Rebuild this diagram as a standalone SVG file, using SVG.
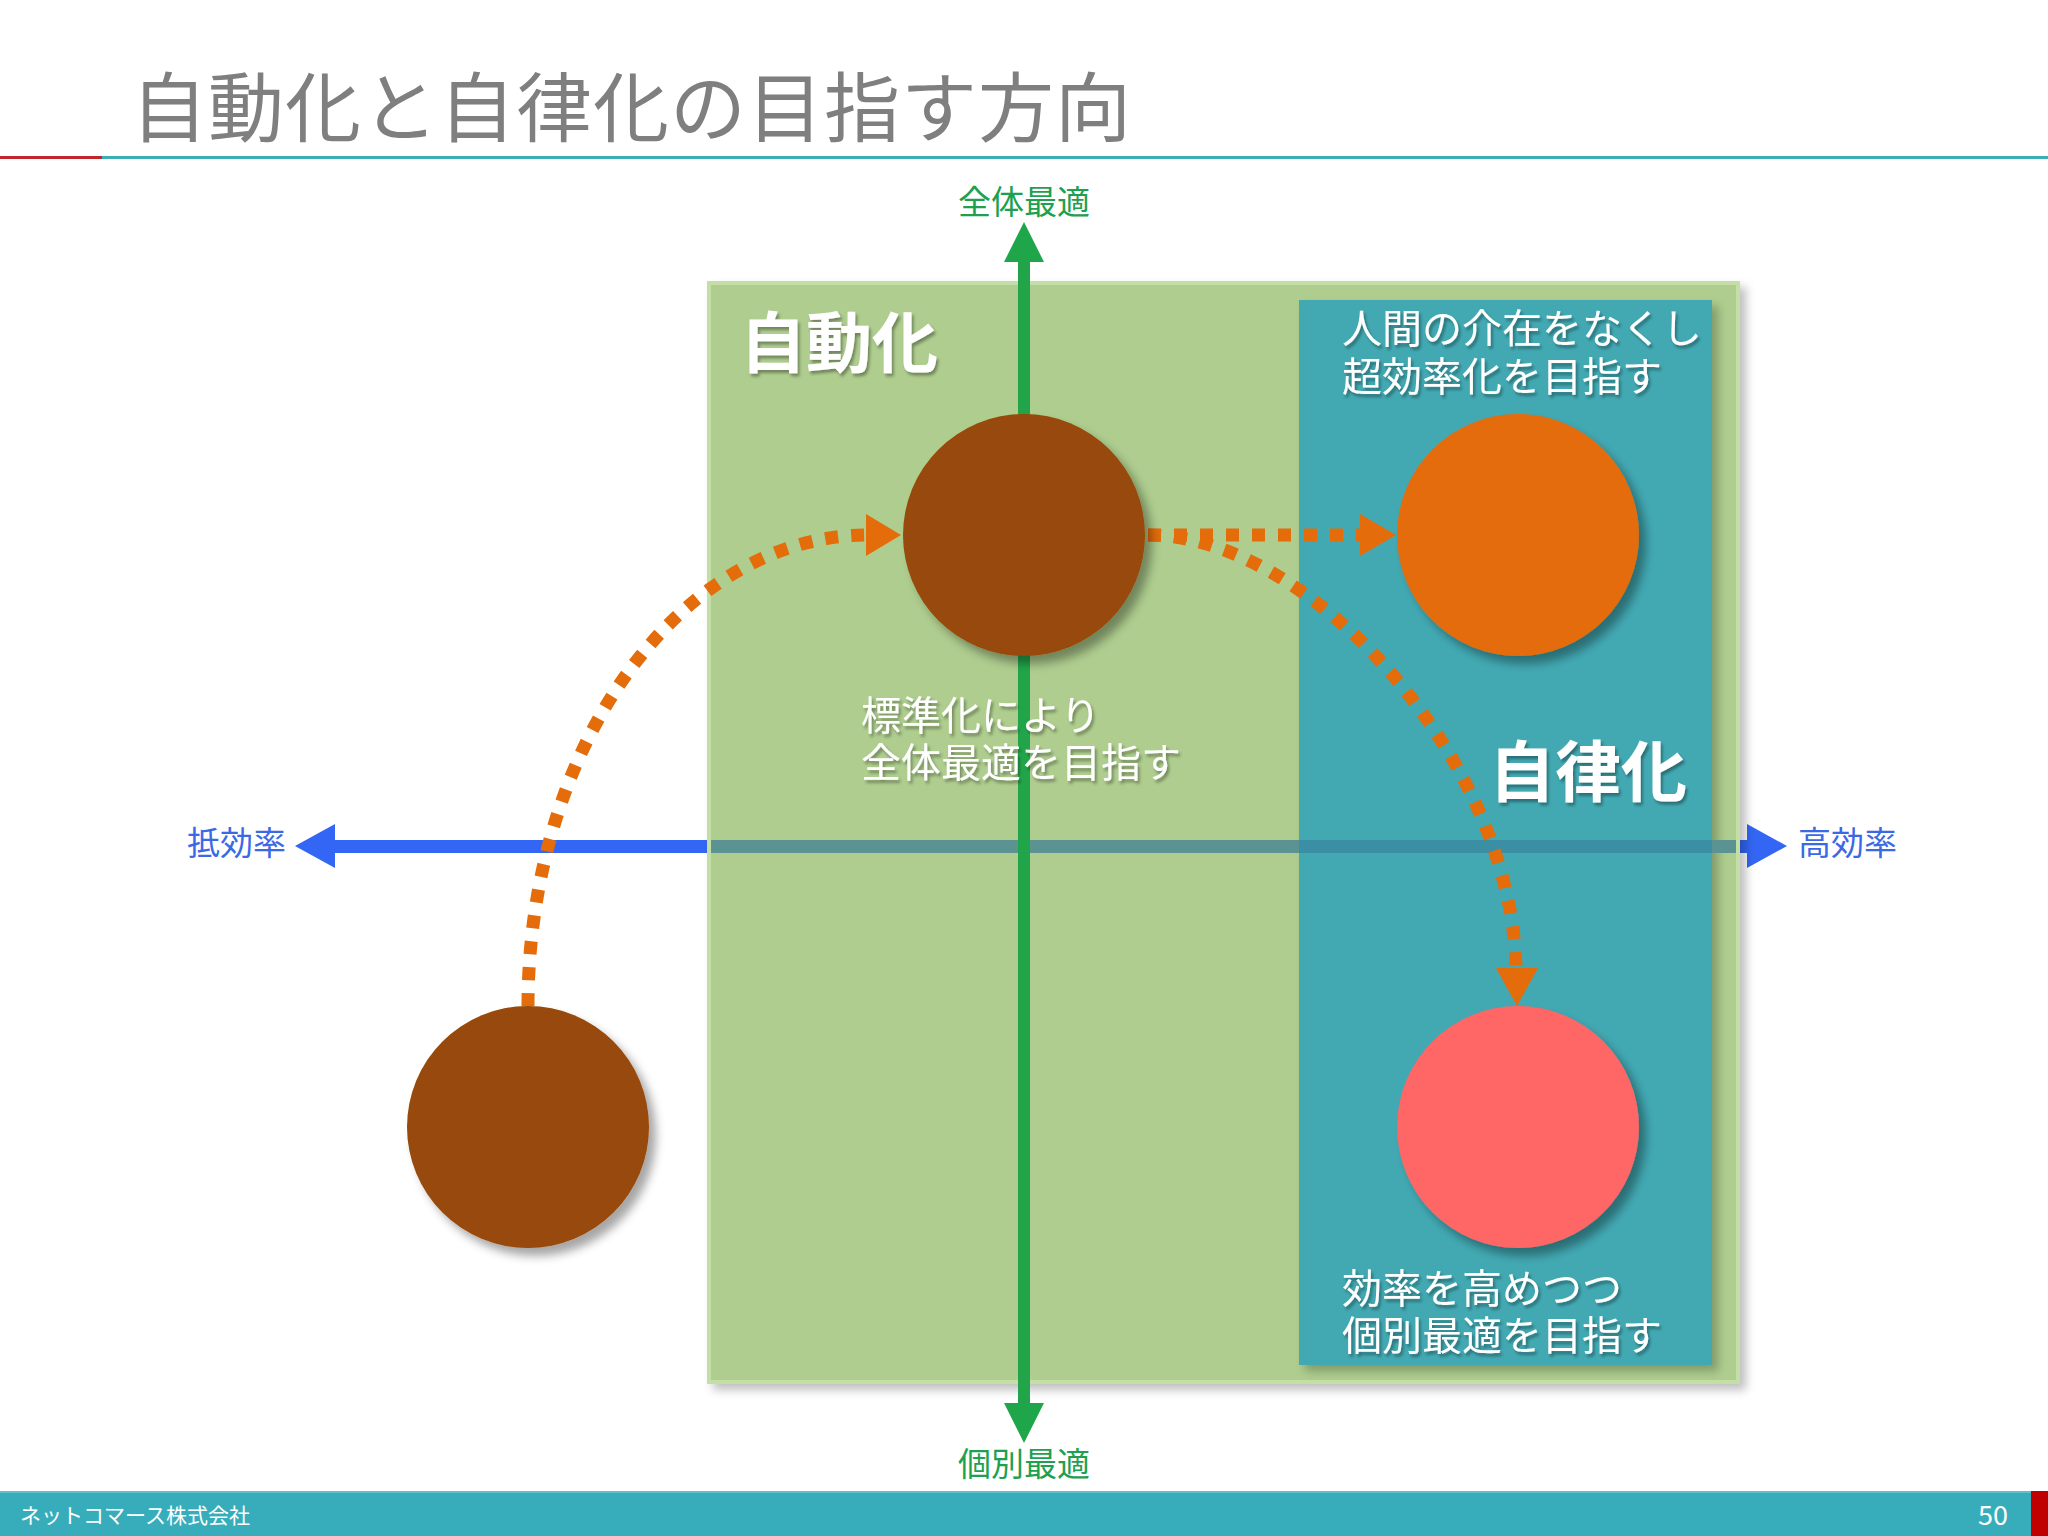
<svg xmlns="http://www.w3.org/2000/svg" width="2048" height="1536" viewBox="0 0 2048 1536">
<defs>
<style>
.jp{font-family:"Noto Sans CJK JP","Noto Sans",sans-serif;}
.wt{fill:#ffffff;font-size:40px;}
.ax{font-size:33px;}
.dot{fill:none;stroke:#E46C0A;stroke-width:13;stroke-dasharray:13 13;}
</style>
<filter id="sh" x="-20%" y="-20%" width="150%" height="150%">
<feDropShadow dx="7" dy="8" stdDeviation="5" flood-color="#000" flood-opacity="0.35"/>
</filter>
<filter id="rsh" x="-5%" y="-5%" width="110%" height="110%">
<feDropShadow dx="6" dy="6" stdDeviation="5" flood-color="#000" flood-opacity="0.25"/>
</filter>
<filter id="tsh" x="-10%" y="-10%" width="120%" height="130%">
<feDropShadow dx="2" dy="3" stdDeviation="1.5" flood-color="#000" flood-opacity="0.35"/>
</filter>
</defs>
<rect width="2048" height="1536" fill="#ffffff"/>

<g id="title">
<text class="jp" x="131" y="136" font-size="76" fill="#7F7F7F" letter-spacing="1">自動化と自律化の目指す方向</text>
<rect x="0" y="156" width="102" height="3" fill="#C0262D"/>
<rect x="102" y="156" width="1946" height="3" fill="#3DAEB8"/>
</g>

<g id="axis-h">
<rect x="325" y="840" width="1430" height="13" fill="#3366F5"/>
<polygon points="295,846 335,824 335,868" fill="#3366F5"/>
<polygon points="1787,846 1747,824 1747,868" fill="#3366F5"/>
<text class="jp ax" x="187" y="855" fill="#3B69E6">抵効率</text>
<text class="jp ax" x="1798" y="855" fill="#3B69E6">高効率</text>
</g>

<g id="zone-auto">
<rect x="709" y="283" width="1029" height="1099" fill="#AECD8E" stroke="#C3DFA6" stroke-width="4" filter="url(#rsh)"/>
</g>
<g id="zone-autonomy">
<rect x="1299" y="300" width="413" height="1065" fill="#42A9B3" filter="url(#rsh)"/>
</g>
<rect x="711" y="840" width="588" height="13" fill="#5B9393"/>
<rect x="1712" y="840" width="24" height="13" fill="#5B9393"/>
<rect x="1299" y="840" width="413" height="13" fill="#3B8FA4"/>

<g id="axis-v">
<rect x="1018" y="255" width="12" height="1152" fill="#22A54A"/>
<polygon points="1024,222 1004,262 1044,262" fill="#1FA64B"/>
<polygon points="1024,1443 1004,1403 1044,1403" fill="#1FA64B"/>
<text class="jp ax" x="1024" y="214" text-anchor="middle" fill="#1DA150">全体最適</text>
<text class="jp ax" x="1024" y="1476" text-anchor="middle" fill="#1DA150">個別最適</text>
</g>

<g id="connectors">
<path class="dot" d="M528,1006 A340,471 0 0 1 868,535"/>
<polygon points="901,535 866,514 866,556" fill="#E46C0A"/>
<path class="dot" d="M1148,535 L1362,535"/>
<polygon points="1396,535 1360,514 1360,556" fill="#E46C0A"/>
<path class="dot" d="M1148,535 C1310,535 1512,760 1516,968"/>
<polygon points="1517,1006 1496,968 1538,968" fill="#E46C0A"/>
</g>

<g id="node-start"><circle cx="528" cy="1127" r="121" fill="#984807" filter="url(#sh)"/></g>
<g id="node-standard"><circle cx="1024" cy="535" r="121" fill="#984807" filter="url(#sh)"/></g>
<g id="node-efficiency"><circle cx="1518" cy="535" r="121" fill="#E46C0A" filter="url(#sh)"/></g>
<g id="node-individual"><circle cx="1518" cy="1127" r="121" fill="#FF6666" filter="url(#sh)"/></g>

<g id="labels" filter="url(#tsh)">
<text class="jp" x="740" y="367" font-size="66" font-weight="bold" fill="#ffffff">自動化</text>
<text class="jp" x="1489" y="796" font-size="66" font-weight="bold" fill="#ffffff">自律化</text>
<text class="jp wt" x="1342" y="343">人間の介在をなくし</text>
<text class="jp wt" x="1342" y="391">超効率化を目指す</text>
<text class="jp wt" x="861" y="730">標準化により</text>
<text class="jp wt" x="861" y="777">全体最適を目指す</text>
<text class="jp wt" x="1342" y="1303">効率を高めつつ</text>
<text class="jp wt" x="1342" y="1350">個別最適を目指す</text>
</g>

<g id="footer">
<rect x="0" y="1491" width="2048" height="45" fill="#37ADBB"/>
<rect x="0" y="1491" width="2048" height="2" fill="#5FC0CB"/>
<rect x="2031" y="1491" width="17" height="45" fill="#C00000"/>
<text class="jp" x="20" y="1523" font-size="21" fill="#ffffff">ネットコマース株式会社</text>
<text class="jp" x="2008" y="1525" font-size="27" fill="#ffffff" text-anchor="end">50</text>
</g>
</svg>
